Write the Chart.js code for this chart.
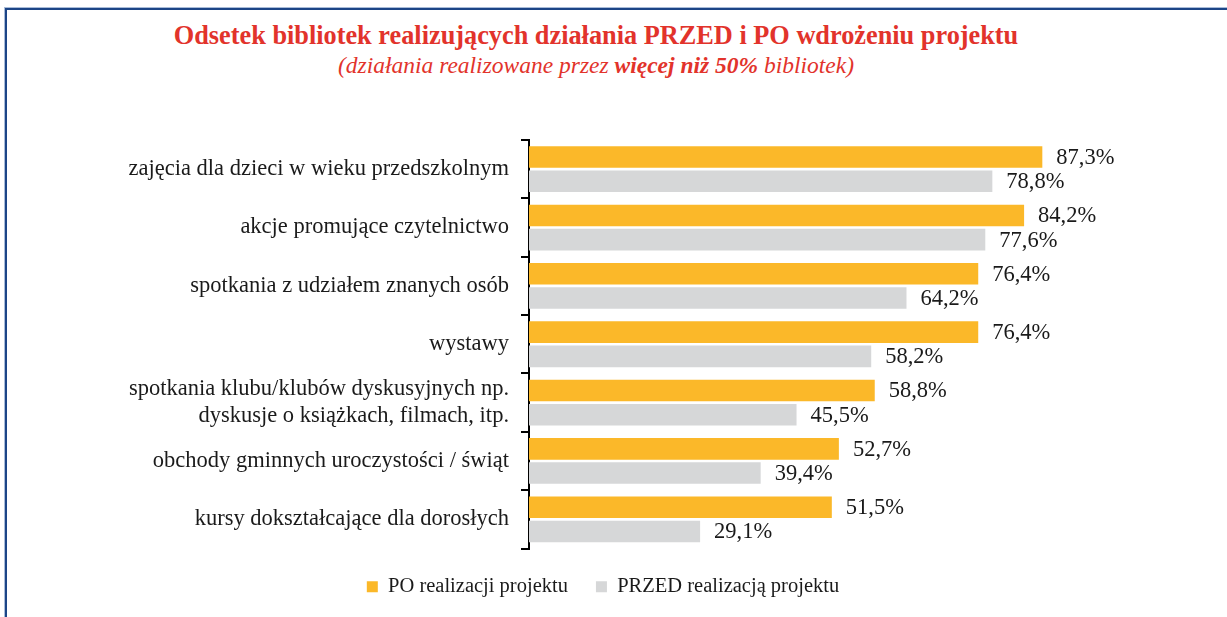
<!DOCTYPE html>
<html>
<head>
<meta charset="utf-8">
<script src="https://cdn.jsdelivr.net/npm/chart.js@4.4.1/dist/chart.umd.min.js"></script>
<style>
  html, body { margin: 0; padding: 0; background: #fff; }
  #wrap { position: relative; width: 1227px; height: 617px; overflow: hidden; }
  #frame { position: absolute; left: 5px; top: 8px; width: 1260px; height: 660px;
           border-left: 2px solid #1c4587; border-top: 2px solid #1c4587;
           box-shadow: -1px -1px 0 #a9bcd8; }
  .t { position: absolute; left: 0; width: 1192px; text-align: center; color: #e2332b;
       font-family: "Liberation Serif", serif; white-space: nowrap; }
  #title { top: 21px; font-size: 26.3px; font-weight: bold; }
  #sub { top: 52px; font-size: 23.5px; font-style: italic; }
  canvas { position: absolute; left: 0; top: 0; }
</style>
</head>
<body>
<div id="wrap">
  <div id="frame"></div>
  <div class="t" id="title">Odsetek bibliotek realizujących działania PRZED i PO wdrożeniu projektu</div>
  <div class="t" id="sub">(działania realizowane przez <b>więcej niż 50%</b> bibliotek)</div>
  <canvas id="c" width="1227" height="617"></canvas>
</div>
<script>
const categories = [
  "zajęcia dla dzieci w wieku przedszkolnym",
  "akcje promujące czytelnictwo",
  "spotkania z udziałem znanych osób",
  "wystawy",
  ["spotkania klubu/klubów dyskusyjnych np.", "dyskusje o książkach, filmach, itp."],
  "obchody gminnych uroczystości / świąt",
  "kursy dokształcające dla dorosłych"
];
const seriesNames = ["PO realizacji projektu", "PRZED realizacją projektu"];
const poValues = [87.3, 84.2, 76.4, 76.4, 58.8, 52.7, 51.5];
const przedValues = [78.8, 77.6, 64.2, 58.2, 45.5, 39.4, 29.1];

const FONT = "Liberation Serif";
const TXT = "#1a1a1a";

const valueLabels = {
  id: 'valueLabels',
  afterDatasetsDraw(chart) {
    const ctx = chart.ctx;
    ctx.save();
    ctx.font = "22.5px '" + FONT + "'";
    ctx.fillStyle = TXT;
    ctx.textAlign = 'left';
    ctx.textBaseline = 'middle';
    chart.data.datasets.forEach((ds, di) => {
      chart.getDatasetMeta(di).data.forEach((bar, i) => {
        const v = ds.data[i];
        ctx.fillText(v.toFixed(1).replace('.', ',') + '%', bar.x + 14, bar.y + 1);
      });
    });
    ctx.restore();
  }
};

new Chart(document.getElementById('c'), {
  type: 'bar',
  data: {
    labels: categories,
    datasets: [
      { label: seriesNames[0], data: poValues, backgroundColor: '#fbb829',
        categoryPercentage: 0.83, barPercentage: 0.89 },
      { label: seriesNames[1], data: przedValues, backgroundColor: '#d6d7d8',
        categoryPercentage: 0.83, barPercentage: 0.89 }
    ]
  },
  options: {
    indexAxis: 'y',
    responsive: false,
    animation: false,
    layout: { padding: { left: 89, right: 110, top: 140, bottom: 10 } },
    scales: {
      x: { display: false, min: 0, max: 100 },
      y: {
        afterFit(scale) { scale.width = 440; },
        border: { display: true, color: '#000', width: 2 },
        grid: { display: true, offset: true, drawOnChartArea: false, drawTicks: true,
                tickLength: 8, color: '#000', lineWidth: 2 },
        ticks: { color: TXT, padding: 12, font: { family: FONT, size: 22.5, lineHeight: 1.18 } }
      }
    },
    plugins: {
      legend: {
        position: 'bottom',
        labels: { color: TXT, boxWidth: 11, boxHeight: 11, padding: 28,
                  font: { family: FONT, size: 20.5 } }
      },
      tooltip: { enabled: false }
    }
  },
  plugins: [valueLabels]
});
</script>
</body>
</html>
